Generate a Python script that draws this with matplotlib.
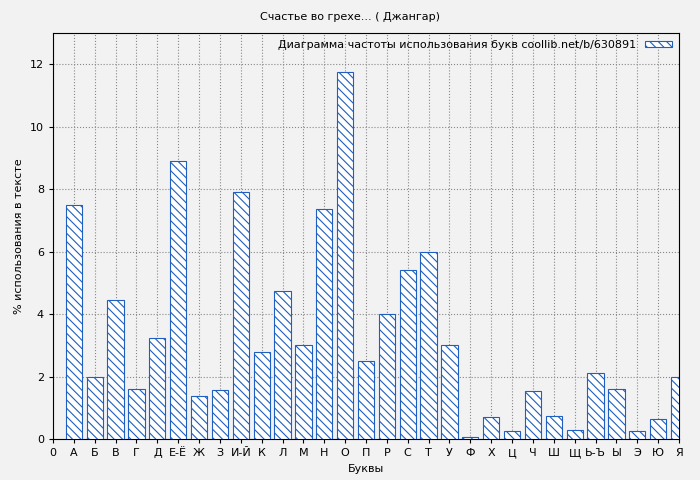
import matplotlib
matplotlib.use("Agg")
import matplotlib.pyplot as plt

letters = ["А", "Б", "В", "Г", "Д", "Е-Ё", "Ж", "З", "И-Й", "К", "Л", "М", "Н", "О", "П",
           "Р", "С", "Т", "У", "Ф", "Х", "Ц", "Ч", "Ш", "Щ", "Ь-Ъ", "Ы", "Э", "Ю", "Я"]
values = [7.49, 1.98, 4.45, 1.6, 3.23, 8.9, 1.38, 1.57, 7.9, 2.78, 4.74, 3.0, 7.36, 11.74, 2.5,
          4.0, 5.41, 5.98, 3.0, 0.06, 0.7, 0.26, 1.54, 0.74, 0.29, 2.11, 1.6, 0.26, 0.64, 1.98]

plt.rcParams["hatch.color"] = "#1f5fbf"
plt.rcParams["hatch.linewidth"] = 0.8

fig = plt.figure(figsize=(7, 4.8), dpi=100, facecolor="#f2f2f2")
ax = fig.add_axes([53 / 700, 41 / 480, 626 / 700, 406 / 480], facecolor="#f2f2f2")
x = list(range(1, len(letters) + 1))
ax.bar(x, values, width=0.78, color="white", edgecolor="#1f5fbf", hatch="\\\\\\\\",
       linewidth=0.8, label="Диаграмма частоты использования букв coollib.net/b/630891",
       zorder=3)
ax.set_xlim(0, 30)
ax.set_ylim(0, 13)
ax.set_xticks([0] + x)
ax.set_xticklabels(["0"] + letters, fontsize=8)
ax.set_yticks(range(0, 13, 2))
ax.tick_params(labelsize=8, length=3)
ax.grid(True, color="#888888", linestyle=":", linewidth=0.8, zorder=0)
ax.set_xlabel("Буквы", fontsize=8)
ax.set_ylabel("% использования в тексте", fontsize=8)
fig.suptitle("Счастье во грехе... ( Джангар)", fontsize=8, y=0.975)
ax.legend(loc="upper right", fontsize=8, frameon=False, markerfirst=False,
          handlelength=2.5, handleheight=0.4, borderaxespad=0.2)
fig.savefig("out.png", dpi=100, facecolor=fig.get_facecolor())
